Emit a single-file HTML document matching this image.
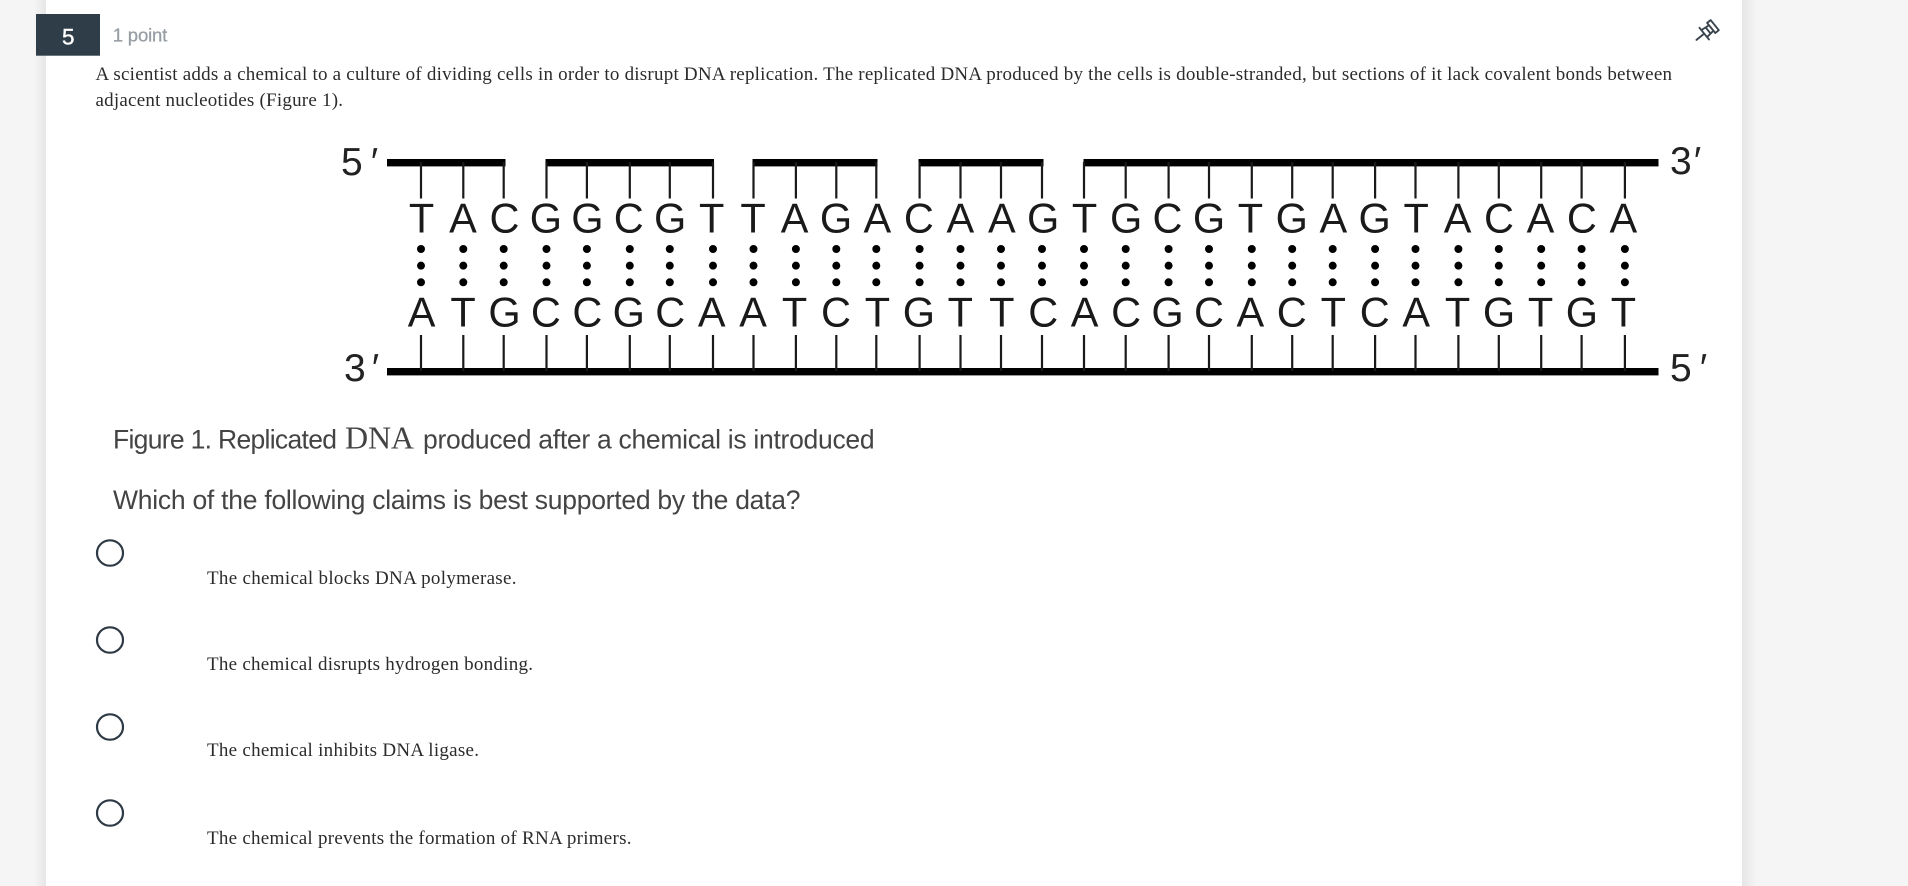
<!DOCTYPE html>
<html lang="en">
<head>
<meta charset="utf-8">
<title>Question 5</title>
<style>
html,body{margin:0;padding:0;width:1908px;height:886px;overflow:hidden;background:#f5f5f5}
svg{display:block;position:absolute;left:0;top:0}
.serif{font-family:"Liberation Serif",serif;font-size:19px;fill:#2b2b2b}
.sans{font-family:"Liberation Sans",sans-serif;font-size:26.5px;fill:#444}
.dna{font-family:"Liberation Sans",sans-serif;font-size:41.5px;fill:#1a1a1a;text-anchor:middle}
.lab{font-family:"Liberation Sans",sans-serif;font-size:39px;fill:#222}
</style>
</head>
<body>
<svg width="1908" height="886" viewBox="0 0 1908 886" xmlns="http://www.w3.org/2000/svg">
<defs>
<linearGradient id="sl" x1="1" y1="0" x2="0" y2="0"><stop offset="0" stop-color="#e6e6e6"/><stop offset="1" stop-color="#f5f5f5"/></linearGradient>
<linearGradient id="sr" x1="0" y1="0" x2="1" y2="0"><stop offset="0" stop-color="#e6e6e6"/><stop offset="1" stop-color="#f5f5f5"/></linearGradient>
</defs>
<rect width="1908" height="886" fill="#f5f5f5"/>
<rect x="34" y="0" width="12" height="886" fill="url(#sl)"/>
<rect x="1742" y="0" width="15" height="886" fill="url(#sr)"/>
<rect x="46" y="0" width="1696" height="886" fill="#fff"/>

<rect x="36" y="14" width="64" height="41.7" fill="#2f3d48"/>
<text x="68.3" y="44.3" text-anchor="middle" font-family="Liberation Sans, sans-serif" font-size="22.5" fill="#fff" stroke="#fff" stroke-width="0.4">5</text>
<text x="112.7" y="41.7" font-family="Liberation Sans, sans-serif" font-size="18.5" fill="#969da3" stroke="#969da3" stroke-width="0.25" textLength="54.6">1 point</text>

<g transform="translate(1705 33) rotate(51)" fill="none" stroke="#3a444d" stroke-width="1.9" stroke-linecap="round" stroke-linejoin="round">
<path d="M-7.5 1H7.5M-4.5 1L-3.5 -8M4.5 1L3.5 -8M-6.5 -12.5H6.5V-8H-6.5ZM-3.5 -4H3.5M0 1V11"/>
</g>

<text class="serif" x="95.5" y="80" textLength="1576.5" lengthAdjust="spacing">A scientist adds a chemical to a culture of dividing cells in order to disrupt DNA replication. The replicated DNA produced by the cells is double-stranded, but sections of it lack covalent bonds between</text>
<text class="serif" x="95.5" y="106" textLength="247.5" lengthAdjust="spacing">adjacent nucleotides (Figure 1).</text>

<g fill="#000">
<rect x="387" y="159" width="118.5" height="7.4"/>
<rect x="545.5" y="159" width="168.5" height="7.4"/>
<rect x="752.5" y="159" width="125" height="7.4"/>
<rect x="918.5" y="159" width="125" height="7.4"/>
<rect x="1083.5" y="159" width="575" height="7.4"/>
<rect x="387" y="368" width="1271.5" height="7.4"/>
</g>
<path fill="none" stroke="#1a1a1a" stroke-width="2.2" d="M421 162V198.5M463.3 162V198.5M503.7 162V198.5M546.5 162V198.5M586.9 162V198.5M629.8 162V198.5M669.8 162V198.5M713 162V198.5M753.5 162V198.5M795.9 162V198.5M836.3 162V198.5M876.3 162V198.5M919.6 162V198.5M960.5 162V198.5M1001 162V198.5M1042 162V198.5M1084 162V198.5M1125.7 162V198.5M1168.6 162V198.5M1209 162V198.5M1251.8 162V198.5M1292.2 162V198.5M1332.7 162V198.5M1375.1 162V198.5M1415.5 162V198.5M1458.4 162V198.5M1498.8 162V198.5M1541.2 162V198.5M1581.6 162V198.5M1624.9 162V198.5"/>
<path fill="none" stroke="#1a1a1a" stroke-width="2.2" d="M421 335V371M463.3 335V371M503.7 335V371M546.5 335V371M586.9 335V371M629.8 335V371M669.8 335V371M713 335V371M753.5 335V371M795.9 335V371M836.3 335V371M876.3 335V371M919.6 335V371M960.5 335V371M1001 335V371M1042 335V371M1084 335V371M1125.7 335V371M1168.6 335V371M1209 335V371M1251.8 335V371M1292.2 335V371M1332.7 335V371M1375.1 335V371M1415.5 335V371M1458.4 335V371M1498.8 335V371M1541.2 335V371M1581.6 335V371M1624.9 335V371"/>
<path fill="none" stroke="#000" stroke-width="8" stroke-linecap="round" stroke-dasharray="0 16.65" d="M421 249V283M463.3 249V283M503.7 249V283M546.5 249V283M586.9 249V283M629.8 249V283M669.8 249V283M713 249V283M753.5 249V283M795.9 249V283M836.3 249V283M876.3 249V283M919.6 249V283M960.5 249V283M1001 249V283M1042 249V283M1084 249V283M1125.7 249V283M1168.6 249V283M1209 249V283M1251.8 249V283M1292.2 249V283M1332.7 249V283M1375.1 249V283M1415.5 249V283M1458.4 249V283M1498.8 249V283M1541.2 249V283M1581.6 249V283M1624.9 249V283"/>

<text class="dna" y="232.7" x="421.6 463 504.5 545.9 587.4 628.8 670.2 711.7 753.1 794.6 836 877.4 918.9 960.3 1001.8 1043.2 1084.6 1126.1 1167.5 1209 1250.4 1291.8 1333.3 1374.7 1416.2 1457.6 1499 1540.5 1581.9 1623.4">TACGGCGTTAGACAAGTGCGTGAGTACACA</text>
<text class="dna" y="326.7" x="421.6 463 504.5 545.9 587.4 628.8 670.2 711.7 753.1 794.6 836 877.4 918.9 960.3 1001.8 1043.2 1084.6 1126.1 1167.5 1209 1250.4 1291.8 1333.3 1374.7 1416.2 1457.6 1499 1540.5 1581.9 1623.4">ATGCCGCAATCTGTTCACGCACTCATGTGT</text>

<text class="lab" x="341" y="175">5</text><text class="lab" x="369" y="175" font-style="italic">′</text>
<text class="lab" x="344" y="381">3</text><text class="lab" x="370" y="381" font-style="italic">′</text>
<text class="lab" x="1670" y="174">3</text><text class="lab" x="1692" y="174" font-style="italic">′</text>
<text class="lab" x="1670" y="381">5</text><text class="lab" x="1698" y="381" font-style="italic">′</text>

<text class="sans" x="113" y="448.3" textLength="224" lengthAdjust="spacing">Figure 1. Replicated</text>
<text x="345" y="448.3" font-family="Liberation Serif, serif" font-size="32" fill="#444" textLength="69" lengthAdjust="spacing">DNA</text>
<text class="sans" x="423" y="448.3" textLength="451.6" lengthAdjust="spacing">produced after a chemical is introduced</text>
<text class="sans" x="113" y="509" textLength="687.5" lengthAdjust="spacing">Which of the following claims is best supported by the data?</text>

<g fill="none" stroke="#2d3a45" stroke-width="2.2">
<ellipse cx="110" cy="553" rx="13" ry="12.7"/>
<ellipse cx="110" cy="640" rx="13" ry="12.7"/>
<ellipse cx="110" cy="727" rx="13" ry="12.7"/>
<ellipse cx="110" cy="813" rx="13" ry="12.7"/>
</g>

<text class="serif" x="207" y="584" textLength="309.5" lengthAdjust="spacing">The chemical blocks DNA polymerase.</text>
<text class="serif" x="207" y="670" textLength="326" lengthAdjust="spacing">The chemical disrupts hydrogen bonding.</text>
<text class="serif" x="207" y="756" textLength="272" lengthAdjust="spacing">The chemical inhibits DNA ligase.</text>
<text class="serif" x="207" y="844" textLength="424.5" lengthAdjust="spacing">The chemical prevents the formation of RNA primers.</text>
</svg>
</body>
</html>
